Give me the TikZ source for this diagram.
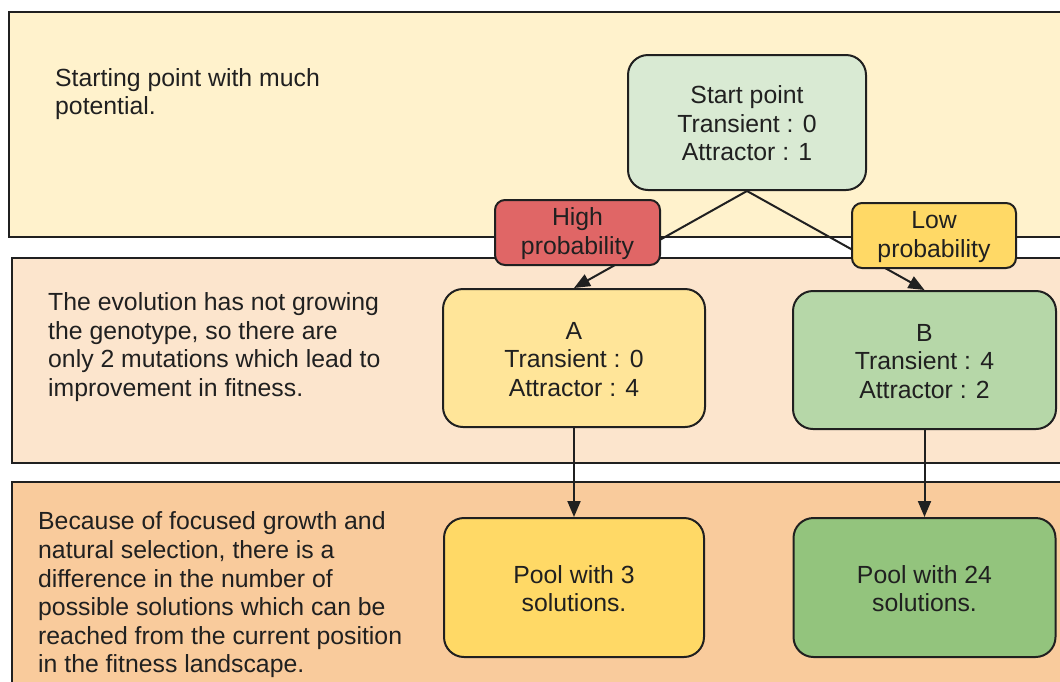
\documentclass[tikz,border=0pt]{standalone}
\usepackage{fontspec}
\setmainfont{Liberation Sans}
\usetikzlibrary{arrows.meta}
\definecolor{bandA}{HTML}{FFF2CC}
\definecolor{bandB}{HTML}{FCE5CD}
\definecolor{bandC}{HTML}{F9CB9C}
\definecolor{ink}{HTML}{202020}
\definecolor{lgreen}{HTML}{D9EAD3}
\definecolor{hred}{HTML}{E06666}
\definecolor{gold}{HTML}{FFD966}
\definecolor{lyellow}{HTML}{FFE599}
\definecolor{mgreen}{HTML}{B6D7A8}
\definecolor{dgreen}{HTML}{93C47D}
\tikzset{
  txt/.style={font=\fontsize{24.8}{28.6}\selectfont, text=ink},
  band/.style={draw=ink, line width=2pt},
  bignode/.style={txt, draw=ink, line width=2pt, rounded corners=20pt, align=center, inner sep=0pt},
  lbl/.style={txt, draw=ink, line width=2pt, rounded corners=10pt, align=center, inner sep=0pt},
  note/.style={txt, align=left, anchor=west, inner sep=0pt},
  conn/.style={draw=ink, line width=2pt, -{Triangle[length=16pt,width=13pt]}},
}
\begin{document}
\begin{tikzpicture}[x=1pt,y=-1pt]
\useasboundingbox (0,0) rectangle (1060,681);
\clip (0,0) rectangle (1060,681);
% bands
\draw[band, fill=bandA] (9,12) rectangle (1080,237);
\draw[band, fill=bandB] (12,258) rectangle (1080,463);
\draw[band, fill=bandC] (12,482) rectangle (1080,700);
% notes
\node[note] (n1) at (55,94) {Starting point with much\\potential.};
\node[note] (n2) at (48,347) {The evolution has not growing\\the genotype, so there are\\only 2 mutations which lead to\\improvement in fitness.};
\node[note] (n3) at (38,595) {Because of focused growth and\\natural selection, there is a\\difference in the number of\\possible solutions which can be\\reached from the current position\\in the fitness landscape.};
% nodes
\node[bignode, fill=lgreen, minimum width=238pt, minimum height=135pt] (start) at (747,122.5) {\strut Start point\\Transient : 0\\Attractor : 1};
\node[bignode, fill=lyellow, minimum width=262pt, minimum height=138pt] (A) at (574,358) {\strut A\\Transient : 0\\Attractor : 4};
\node[bignode, fill=mgreen, minimum width=263pt, minimum height=138pt] (B) at (924.5,360) {\strut B\\Transient : 4\\Attractor : 2};
\node[bignode, fill=gold, minimum width=260pt, minimum height=139pt] (P3) at (574,587.5) {\strut Pool with 3\\solutions.};
\node[bignode, fill=dgreen, minimum width=262pt, minimum height=139pt] (P24) at (924.5,587.5) {\strut Pool with 24\\solutions.};
% connectors
\draw[conn] (start.south) -- (A.north);
\draw[conn] (start.south) -- (B.north);
\draw[conn] (A.south) -- (P3.north);
\draw[conn] (B.south) -- (P24.north);
% labels
\node[lbl, fill=hred, minimum width=165pt, minimum height=65pt] (hp) at (577.5,232.5) {\strut High\\probability};
\node[lbl, fill=gold, minimum width=164pt, minimum height=65pt] (lp) at (934,235.5) {\strut Low\\probability};
\end{tikzpicture}
\end{document}
